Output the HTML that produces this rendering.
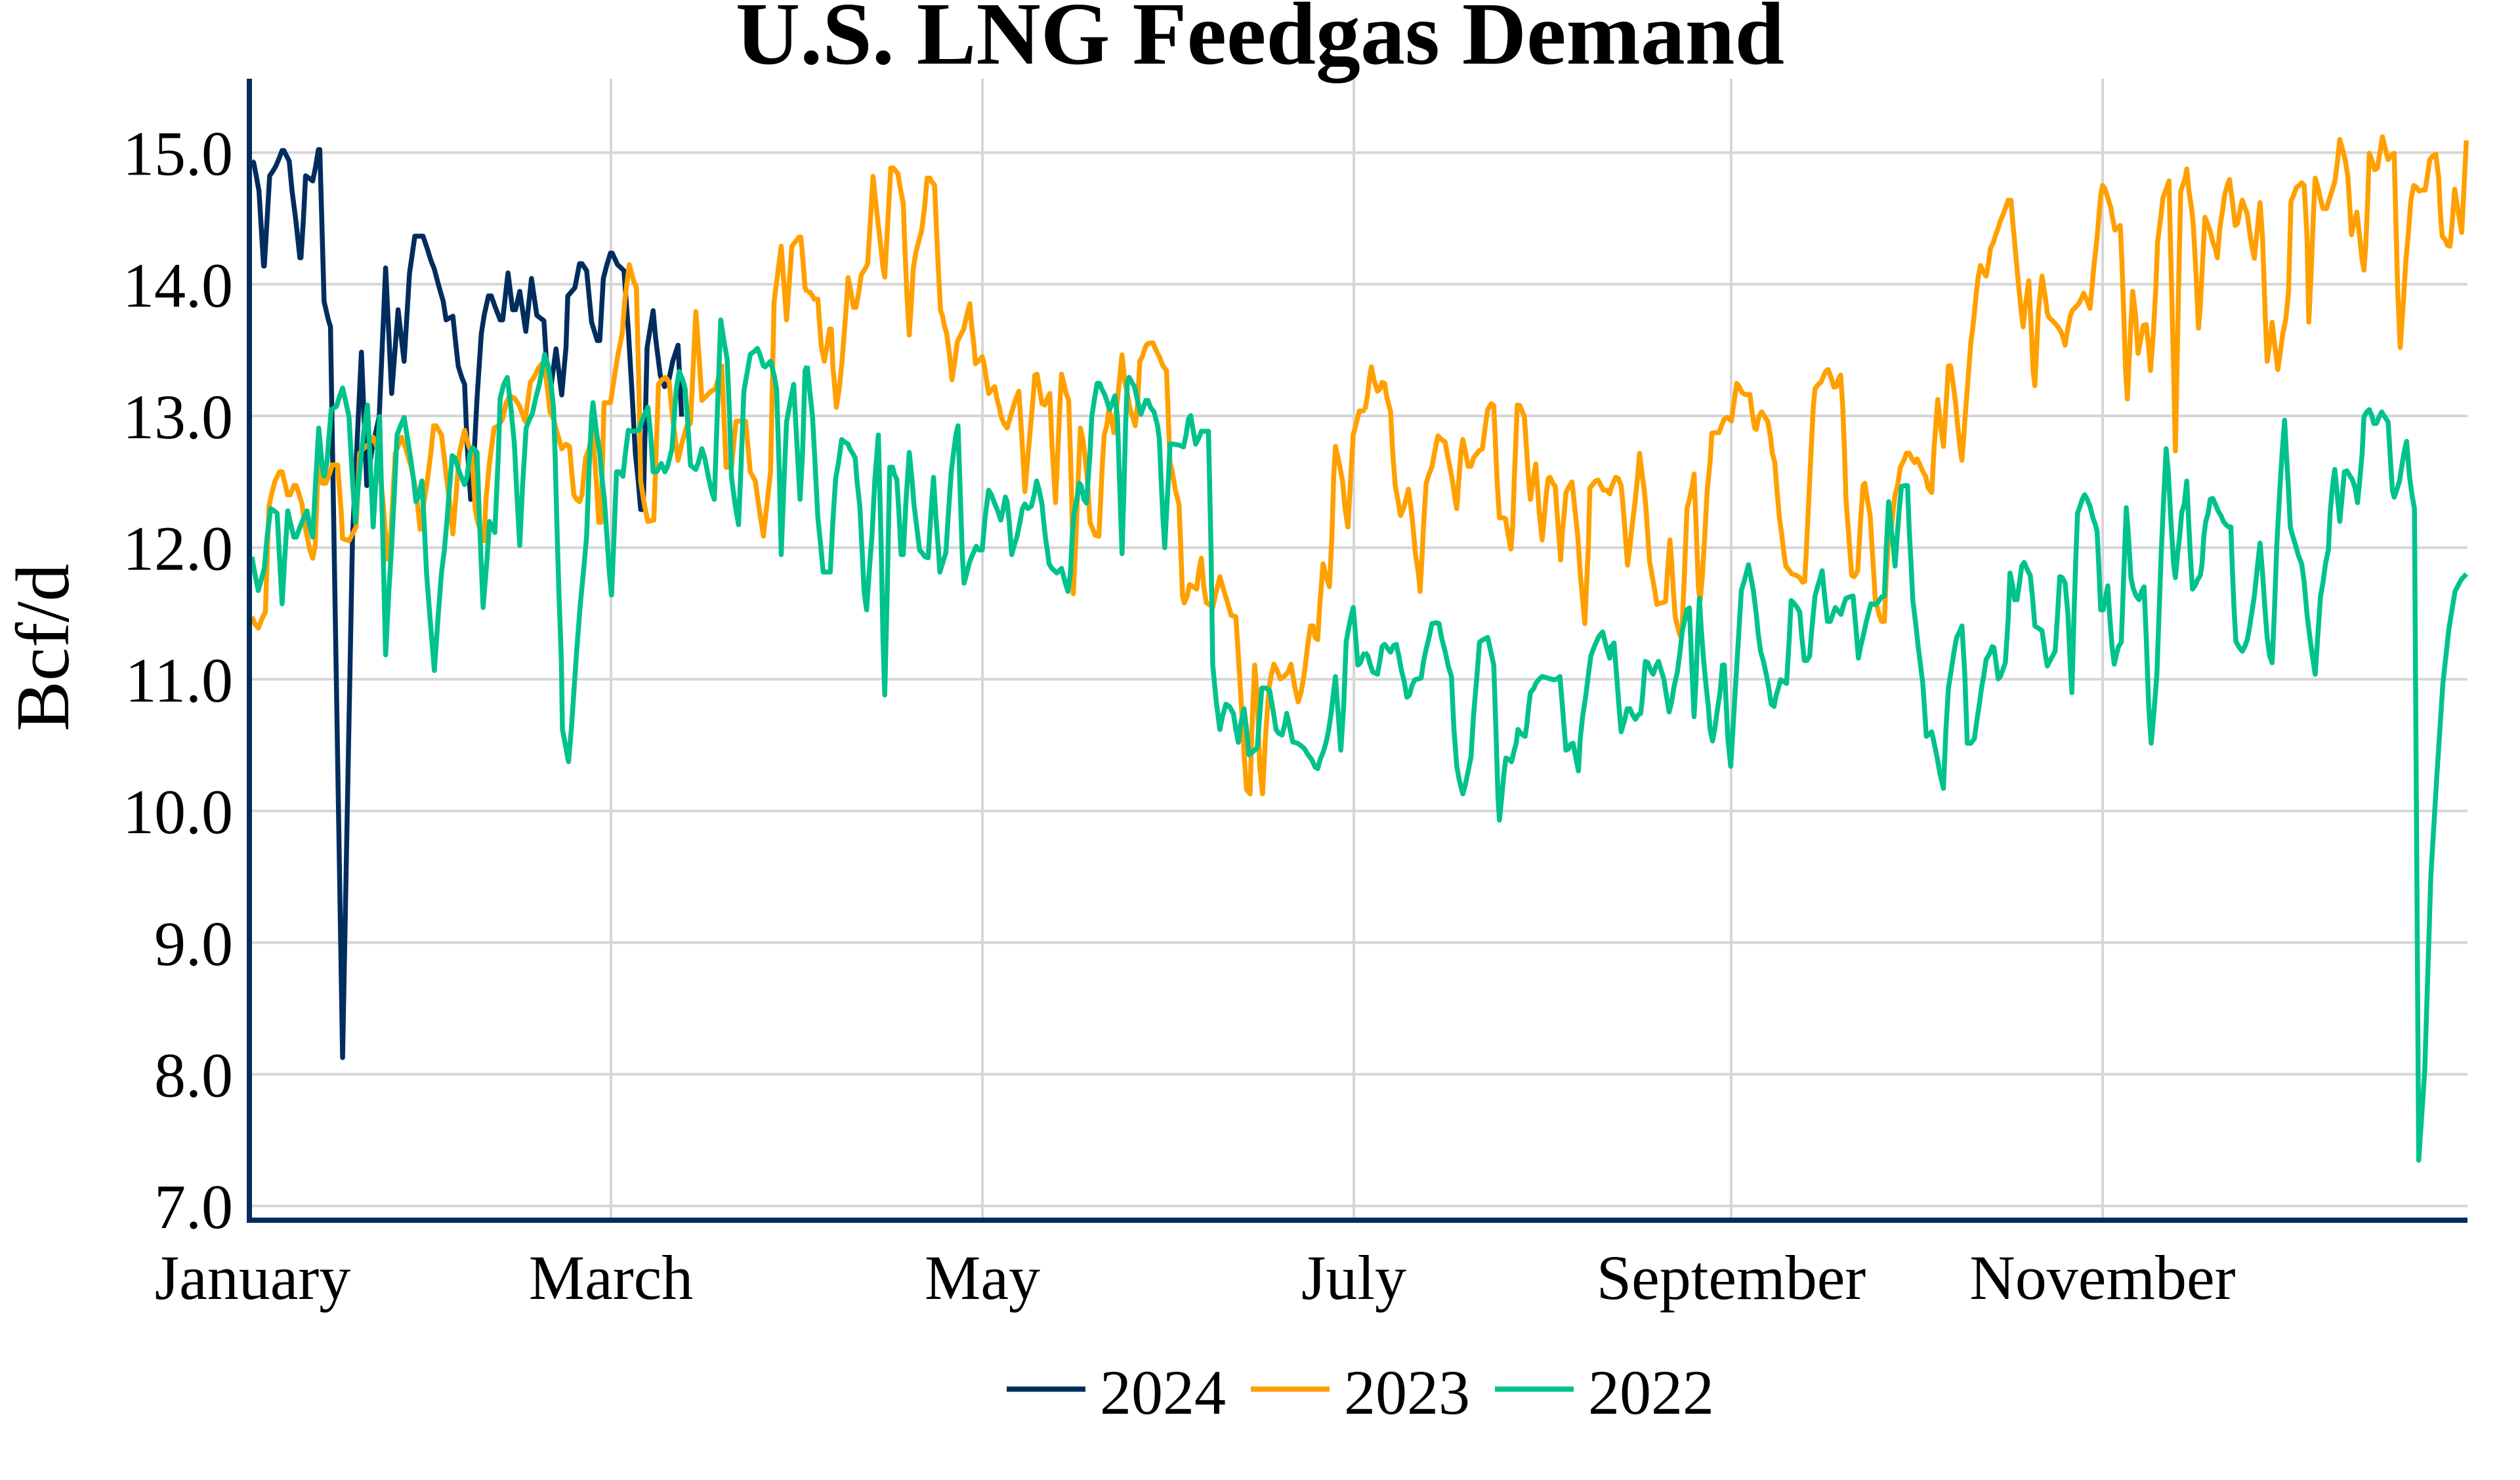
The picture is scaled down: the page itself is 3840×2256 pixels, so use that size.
<!DOCTYPE html>
<html>
<head>
<meta charset="utf-8">
<style>
html,body{margin:0;padding:0;background:#fff;}
svg{display:block;}
</style>
</head>
<body>
<svg width="3840" height="2256" viewBox="0 0 3840 2256" xmlns="http://www.w3.org/2000/svg" font-family="'Liberation Serif','Times New Roman',serif">
<rect x="0" y="0" width="3840" height="2256" fill="#ffffff"/>

<!-- horizontal gridlines -->
<g stroke="#d6d6d6" stroke-width="4">
<line x1="384" y1="232.6" x2="3760" y2="232.6"/>
<line x1="384" y1="433.3" x2="3760" y2="433.3"/>
<line x1="384" y1="634.0" x2="3760" y2="634.0"/>
<line x1="384" y1="834.7" x2="3760" y2="834.7"/>
<line x1="384" y1="1035.4" x2="3760" y2="1035.4"/>
<line x1="384" y1="1236.1" x2="3760" y2="1236.1"/>
<line x1="384" y1="1436.8" x2="3760" y2="1436.8"/>
<line x1="384" y1="1637.5" x2="3760" y2="1637.5"/>
<line x1="384" y1="1838.2" x2="3760" y2="1838.2"/>
</g>
<!-- vertical gridlines -->
<g stroke="#d6d6d6" stroke-width="4">
<line x1="931" y1="120" x2="931" y2="1856"/>
<line x1="1497" y1="120" x2="1497" y2="1856"/>
<line x1="2063" y1="120" x2="2063" y2="1856"/>
<line x1="2638" y1="120" x2="2638" y2="1856"/>
<line x1="3204" y1="120" x2="3204" y2="1856"/>
</g>

<!-- series -->
<g fill="none" stroke-linejoin="round" stroke-linecap="butt">

<!-- 2024 navy -->
<g transform="translate(380,200) scale(0.54209,0.70151)">
<polyline vector-effect="non-scaling-stroke" stroke="#002d5e" stroke-width="7.5" points="7,65 12,68 20,100 27,130 40,293 42,293 50,190 57,97 65,88 75,75 82,62 92,42 97,42 112,65 120,130 130,190 142,275 145,275 152,190 158,97 168,102 178,108 186,78 194,40 198,40 210,370 222,410 228,425 262,2013 290,880 315,480 330,770 345,690 365,620 383,297 400,570 418,388 435,500 450,310 465,228 488,228 500,255 510,280 520,300 532,335 545,370 553,410 572,402 580,460 587,510 597,535 605,550 612,680 622,800 632,700 640,580 652,440 660,400 672,358 680,358 690,380 705,410 712,410 727,308 740,388 748,388 760,348 777,435 793,320 808,400 828,412 835,500 845,570 862,473 878,573 890,470 895,358 915,340 928,288 935,288 948,303 962,415 978,455 985,455 995,320 1005,290 1015,265 1020,265 1035,290 1053,303 1065,430 1075,560 1085,700 1093,760 1100,822 1107,822 1118,470 1135,390 1142,450 1155,530 1167,555 1178,545 1190,500 1205,465 1215,620"/>
</g>

<!-- 2023 orange -->
<g transform="translate(380,200) scale(0.54209,0.70151)">
<polyline vector-effect="non-scaling-stroke" stroke="#ffa000" stroke-width="7.5" points="7,1055 15,1070 25,1080 35,1060 45,1045 55,815 62,790 72,760 85,740 92,740 100,765 107,790 115,790 125,770 132,770 140,790 148,810 155,855 162,880 170,910 178,928 185,900 195,690 205,765 215,765 225,745 233,725 248,725 258,825 262,885 280,890 290,875 300,860 310,700 320,690 335,680 348,665 360,690 375,800 388,930 398,870 410,700 428,665 440,690 455,730 470,790 480,865 490,810 500,760 510,700 518,640 525,640 540,660 548,710 555,760 562,800 572,875 580,800 590,700 605,650 615,680 625,700 635,820 642,850 660,890 665,800 675,720 688,645 700,640 712,625 722,590 732,575 745,580 758,595 775,630 790,545 800,535 812,515 828,500 838,560 845,610 855,625 865,655 878,690 890,680 900,685 905,730 912,790 920,800 928,805 935,790 945,710 955,690 965,650 975,760 982,850 988,850 997,590 1015,590 1025,540 1035,490 1048,440 1055,370 1068,290 1080,325 1088,340 1095,560 1100,760 1110,810 1120,848 1137,845 1150,550 1160,540 1170,535 1180,545 1190,625 1205,715 1215,680 1230,640 1240,635 1255,392 1265,500 1272,585 1285,575 1298,565 1310,560 1328,510 1340,730 1355,730 1368,630 1380,630 1395,630 1408,740 1422,760 1435,830 1445,880 1465,740 1475,370 1485,310 1495,250 1510,410 1525,250 1535,240 1545,230 1550,230 1555,270 1562,340 1568,350"/>
</g>
<g transform="translate(1230,200) scale(0.54209,0.70151)">
<polyline vector-effect="non-scaling-stroke" stroke="#ffa000" stroke-width="7.5" points="0,350 8,350 15,358 20,365 30,365 35,420 40,470 48,500 55,470 63,430 68,430 72,510 78,560 82,600 90,560 98,500 105,430 110,380 115,318 122,345 130,383 137,383 145,350 152,312 162,300 170,288 178,190 185,98 192,150 200,205 207,250 212,290 218,317 225,220 235,80 242,80 255,92 262,125 270,157 275,260 280,350 287,443 293,370 298,300 305,265 315,235 322,215 330,165 337,102 345,102 350,110 358,117 365,240 370,320 375,390 380,400 385,420 392,440 400,485 407,540 415,500 422,458 430,445 440,430 447,405 457,375 462,420 468,460 473,505 485,497 492,490 497,505 502,530 510,570 520,560 527,555 533,580 540,600 545,620 553,635 562,645 568,630 575,610 585,585 595,565 603,660 612,783 620,710 627,650 635,580 640,530 646,528 652,555 660,592 668,595 675,580 682,570 688,680 692,730 698,807 705,690 710,600 715,528 722,550 728,570 735,585 740,700 745,850 748,1005 755,890 762,750 768,645 775,670 780,700 788,760 795,850 803,865 810,878 820,880 825,800 830,720 835,660 842,640 848,605 855,625 862,655 870,600 878,540 885,486 893,545 900,570 908,605 915,620 922,640 928,600 935,500 942,490 950,470 955,463 965,460 972,460 980,475 990,490 1000,510 1010,520 1015,620 1020,720 1025,735 1035,780 1045,810 1050,900 1055,1010 1060,1025 1068,1010 1075,985 1085,990 1095,995 1100,960 1108,928 1115,990 1122,1025 1130,1028 1140,1035 1150,1000 1160,968 1170,995 1180,1020 1192,1052 1205,1055 1212,1140 1220,1240 1228,1350 1235,1430 1245,1440 1250,1300 1258,1160 1265,1230 1272,1380 1280,1440 1288,1320 1298,1210 1305,1180 1312,1158 1320,1170 1330,1190 1340,1185 1352,1175 1360,1158 1370,1205 1380,1240 1388,1220 1395,1190 1402,1150 1408,1110 1415,1075 1422,1075 1428,1100 1435,1105 1440,1040 1450,940 1458,965 1468,990 1475,880 1480,750 1485,685 1495,720 1505,760 1512,820 1520,860 1528,750 1535,660 1545,630 1552,608 1562,608 1568,605"/>
</g>
<g transform="translate(2080,200) scale(0.54209,0.70151)">
<polyline vector-effect="non-scaling-stroke" stroke="#ffa000" stroke-width="7.5" points="0,605 8,570 12,540 18,512 25,540 35,565 42,560 48,546 55,548 62,580 72,610 78,700 85,770 92,800 100,835 108,820 115,800 122,778 128,810 135,860 142,920 150,960 155,1000 160,930 165,850 172,765 180,745 188,730 195,700 205,662 212,668 225,675 232,705 240,735 248,770 252,795 258,820 265,745 270,695 275,670 282,695 290,728 298,728 305,710 312,703 320,695 330,690 335,660 340,630 345,605 355,592 362,596 368,700 372,770 378,840 388,840 395,842 402,875 410,908 415,860 420,750 428,595 435,596 448,620 455,700 460,760 465,800 472,760 480,723 485,775 490,830 498,888 505,830 510,785 515,755 520,752 528,765 535,772 540,830 545,880 550,932 555,870 560,830 565,785 575,770 582,762 590,820 598,880 605,960 612,1020 618,1070 622,1000 628,900 632,775 640,768 648,760 655,758 662,768 670,780 680,780 688,788 692,775 700,760 705,752 712,755 720,770 725,810 732,880 738,943 745,900 752,850 760,800 765,760 772,700 778,740 785,780 790,820 795,880 800,935 808,970 815,1000 820,1028 828,1026 838,1024 845,1022 850,960 857,888 862,935 866,990 872,1055 878,1075 885,1095 890,1100 897,980 905,820 912,800 920,770 925,745 932,880 937,990 942,1020 948,970 955,880 962,780 970,720 975,656 985,655 995,655 1002,640 1010,625 1018,622 1025,626 1030,630 1035,600 1040,575 1045,548 1052,555 1060,568 1068,572 1082,572 1088,610 1095,645 1100,648 1107,620 1115,610 1125,622 1132,630 1140,665 1145,700 1152,720 1158,780 1165,840 1172,880 1178,920 1183,945 1190,952 1200,962 1212,965 1222,970 1230,980 1236,978 1240,920 1245,840 1250,760 1255,680 1260,600 1265,560 1272,552 1282,545 1290,530 1295,522 1302,518 1310,535 1318,556 1325,555 1330,540 1337,530 1343,600 1348,700 1352,800 1358,860 1362,900 1368,965 1375,968 1385,955 1392,860 1400,770 1405,765 1412,800 1420,835 1425,900 1430,960 1435,1025 1440,1035 1445,1050 1452,1065 1460,1065 1465,970 1472,880 1480,860 1485,820 1490,790 1497,770 1505,730 1515,715 1522,700 1530,700 1538,712 1545,720 1552,712 1560,725 1568,740"/>
</g>
<g transform="translate(2930,200) scale(0.54209,0.70151)">
<polyline vector-effect="non-scaling-stroke" stroke="#ffa000" stroke-width="7.5" points="0,740 8,750 15,775 25,785 32,685 42,583 50,640 58,685 65,600 72,510 78,510 85,548 92,590 98,640 105,690 110,715 115,665 120,610 125,560 130,510 135,460 140,430 145,395 150,355 155,320 162,292 170,305 178,315 185,285 190,255 198,242 205,225 212,210 218,195 225,182 232,168 240,150 248,150 252,190 258,240 265,300 270,340 275,380 282,425 288,380 298,325 305,430 310,520 315,553 320,470 325,390 335,315 340,340 345,365 350,395 355,405 362,410 372,418 380,425 388,435 395,450 400,465 405,440 410,420 415,400 420,390 430,382 438,375 445,365 452,352 460,365 470,385 475,345 480,300 485,265 490,230 495,185 500,140 505,118 512,125 520,145 528,165 535,195 540,215 548,210 555,205 560,290 565,400 570,520 575,582 580,500 585,420 590,348 598,400 605,483 612,455 620,422 628,420 635,470 640,520 648,440 655,340 660,240 665,210 670,180 675,145 682,130 688,118 692,108 698,300 705,520 710,695 715,500 720,300 725,130 732,115 738,100 742,82 748,130 755,165 760,200 768,310 775,428 780,380 786,290 793,187 800,200 808,218 815,240 822,255 828,275 835,210 842,175 848,140 855,120 862,105 870,150 878,205 885,200 892,170 898,150 905,165 912,180 918,215 925,250 932,276 940,215 948,155 955,230 962,390 968,500 975,460 982,415 990,470 998,518 1005,480 1012,440 1020,410 1028,350 1035,152 1042,140 1050,122 1058,118 1065,112 1072,118 1080,230 1085,415 1092,300 1098,180 1103,102 1110,120 1118,148 1125,168 1135,168 1142,150 1150,130 1158,110 1165,70 1172,18 1180,40 1188,65 1195,100 1205,225 1212,200 1220,176 1228,230 1235,280 1240,302 1245,250 1250,160 1255,48 1262,62 1270,84 1278,80 1285,45 1292,12 1300,38 1308,62 1318,52 1325,48 1330,200 1335,350 1342,470 1350,380 1358,280 1365,220 1372,150 1380,118 1388,122 1395,130 1405,128 1412,128 1418,100 1425,62 1432,55 1442,50 1450,100 1455,180 1460,228 1468,235 1475,248 1482,250 1488,200 1495,126 1505,175 1515,220 1522,110 1528,20"/>
</g>

<!-- 2022 green -->
<g transform="translate(380,200) scale(0.54209,0.70151)">
<polyline vector-effect="non-scaling-stroke" stroke="#00c28c" stroke-width="7.5" points="7,925 15,960 25,998 35,970 42,950 50,880 60,820 70,825 78,830 85,930 92,1027 100,920 108,825 115,850 125,882 132,882 140,865 150,845 162,825 170,860 178,882 185,780 195,645 205,730 210,750 218,720 230,605 245,598 252,580 262,558 270,585 280,620 290,760 298,850 305,780 315,700 322,650 332,595 340,720 348,860 357,740 366,620 375,880 383,1138 392,1000 400,900 408,780 415,660 425,640 435,622 445,670 455,720 462,760 468,805 475,795 485,760 490,830 498,960 508,1060 520,1172 530,1060 540,960 548,910 555,850 562,780 570,705 578,710 590,740 605,768 612,750 620,700 628,688 640,698 648,870 657,1035 668,930 675,848 690,872 700,700 705,580 715,550 725,535 735,600 745,680 752,790 760,900 768,770 778,645 788,625 795,615 805,580 815,550 825,510 830,485 840,510 848,550 855,600 860,720 865,870 870,1000 877,1150 880,1300 890,1340 897,1370 905,1300 912,1220 920,1130 930,1030 940,950 948,880 955,730 962,620 966,590 975,650 985,700 990,745 998,800 1005,880 1012,960 1018,1008 1025,880 1032,740 1040,740 1050,750 1057,700 1065,650 1080,652 1095,650 1108,620 1120,600 1128,660 1135,740 1145,740 1158,722 1168,740 1175,730 1188,690 1200,560 1208,522 1218,540 1225,560 1232,630 1240,726 1255,735 1262,720 1272,690 1280,710 1290,750 1300,785 1307,800 1315,620 1325,410 1335,460 1343,495 1350,620 1355,750 1365,810 1375,855 1382,730 1390,565 1398,530 1408,485 1420,478 1428,472 1435,485 1445,510 1450,512 1465,500 1475,530 1482,560 1490,750 1495,920 1503,760 1510,632 1520,590 1530,550 1537,650 1548,800 1555,700 1562,520 1568,510"/>
</g>
<g transform="translate(1230,200) scale(0.54209,0.70151)">
<polyline vector-effect="non-scaling-stroke" stroke="#00c28c" stroke-width="7.5" points="0,510 8,570 15,620 22,720 30,840 38,900 45,958 55,958 65,958 72,850 80,755 88,720 97,670 105,675 115,680 120,690 128,700 135,710 140,760 148,815 155,920 160,1000 167,1040 175,950 182,880 190,760 200,660 208,900 213,1100 218,1225 225,1000 232,730 240,730 245,745 252,757 258,830 264,920 270,920 278,800 287,698 295,760 300,810 308,860 316,910 325,918 330,924 340,927 347,840 355,752 362,840 368,900 373,958 380,940 390,915 397,830 405,740 412,695 418,660 424,640 430,780 436,920 441,982 448,962 455,940 462,925 468,915 475,902 483,910 492,910 500,840 510,780 518,790 525,805 532,818 538,830 544,845 550,825 557,795 562,805 568,850 575,920 580,905 590,880 598,850 605,820 612,810 620,820 630,815 638,790 645,760 652,780 660,810 665,850 670,885 675,910 680,940 688,950 695,955 702,960 715,950 725,980 733,1000 740,960 745,880 750,830 758,800 765,765 770,770 778,800 785,808 795,700 800,620 808,580 815,548 822,548 828,560 835,570 842,585 850,605 858,590 865,575 872,620 878,760 885,918 890,790 895,640 900,545 905,535 912,545 920,555 930,590 938,615 945,600 952,585 958,585 965,600 975,610 985,640 990,670 995,760 1000,840 1005,905 1010,830 1015,760 1020,680 1030,680 1045,682 1058,686 1065,660 1072,625 1078,618 1085,650 1092,680 1100,668 1108,652 1118,652 1128,652 1135,900 1140,1160 1150,1240 1160,1300 1168,1270 1177,1245 1187,1250 1198,1265 1205,1300 1212,1328 1218,1290 1228,1255 1235,1300 1242,1355 1250,1350 1265,1340 1272,1270 1278,1210 1290,1210 1300,1215 1310,1260 1318,1300 1325,1308 1335,1312 1342,1290 1348,1265 1355,1290 1365,1327 1378,1330 1388,1335 1398,1342 1408,1355 1418,1365 1428,1382 1435,1385 1442,1365 1450,1350 1458,1330 1465,1305 1472,1270 1478,1230 1485,1185 1492,1260 1500,1345 1508,1250 1515,1110 1522,1080 1530,1050 1535,1035 1542,1100 1548,1160 1555,1155 1562,1140 1568,1132"/>
</g>
<g transform="translate(2080,200) scale(0.54209,0.70151)">
<polyline vector-effect="non-scaling-stroke" stroke="#00c28c" stroke-width="7.5" points="0,1132 8,1140 15,1160 22,1175 35,1180 42,1150 48,1120 55,1115 65,1125 72,1132 80,1118 88,1115 95,1140 102,1170 110,1195 118,1230 125,1225 132,1205 140,1192 150,1190 158,1188 165,1150 172,1125 180,1100 188,1070 200,1068 208,1070 215,1100 225,1130 235,1165 243,1185 250,1300 258,1380 265,1410 275,1440 282,1420 290,1390 298,1360 305,1270 315,1180 322,1110 332,1105 345,1100 352,1125 362,1160 368,1300 374,1450 378,1497 384,1450 390,1400 396,1362 405,1365 412,1370 418,1350 425,1330 430,1300 440,1310 450,1315 455,1290 460,1250 465,1220 475,1210 480,1200 488,1192 498,1185 508,1187 520,1190 532,1192 540,1190 548,1185 555,1250 560,1300 565,1345 572,1342 578,1332 585,1330 592,1358 600,1390 605,1320 612,1270 620,1230 628,1180 635,1140 642,1125 650,1110 658,1097 668,1088 675,1110 682,1130 688,1145 692,1120 700,1112 708,1190 715,1260 720,1305 728,1285 737,1255 745,1255 752,1268 760,1278 768,1268 775,1265 780,1230 788,1152 795,1155 802,1170 810,1180 818,1162 825,1152 832,1170 840,1190 848,1230 855,1262 862,1240 868,1210 878,1175 885,1135 892,1085 898,1065 905,1040 912,1036 918,1150 925,1272 930,1200 935,1100 940,1015 945,1080 952,1150 958,1200 965,1250 970,1300 977,1325 983,1300 990,1260 998,1220 1005,1160 1010,1160 1015,1240 1020,1320 1028,1380 1035,1290 1042,1200 1050,1100 1058,998 1065,980 1072,960 1078,942 1085,970 1092,1000 1100,1050 1105,1090 1112,1130 1120,1152 1128,1180 1135,1210 1142,1245 1150,1250 1155,1228 1162,1210 1168,1192 1175,1195 1185,1200 1192,1110 1198,1020 1205,1025 1215,1035 1222,1045 1228,1100 1235,1150 1242,1150 1250,1140 1255,1090 1260,1050 1265,1010 1272,990 1278,975 1285,955 1292,1010 1300,1065 1308,1065 1315,1050 1322,1035 1330,1042 1338,1050 1345,1030 1352,1015 1362,1012 1372,1010 1380,1080 1387,1145 1393,1120 1400,1098 1408,1070 1415,1048 1422,1027 1430,1028 1438,1028 1445,1020 1452,1012 1460,1010 1465,910 1472,805 1480,870 1485,900 1490,945 1495,890 1502,820 1508,772 1518,770 1525,770 1530,870 1535,940 1540,1020 1548,1070 1555,1120 1568,1200"/>
</g>
<g transform="translate(2930,200) scale(0.54209,0.70151)">
<polyline vector-effect="non-scaling-stroke" stroke="#00c28c" stroke-width="7.5" points="0,1200 10,1315 18,1310 25,1305 32,1330 40,1360 48,1395 58,1428 65,1300 72,1210 80,1170 88,1130 95,1100 102,1090 110,1075 118,1180 125,1330 135,1330 145,1320 152,1280 158,1250 165,1210 172,1180 178,1148 188,1135 195,1120 200,1122 205,1150 212,1190 218,1185 225,1170 232,1155 240,1060 245,960 252,985 258,1018 265,1018 272,980 278,945 285,937 295,955 302,965 308,1010 315,1075 325,1080 335,1085 340,1112 345,1140 350,1162 358,1150 365,1140 372,1130 378,1060 385,968 392,970 400,982 408,1050 414,1150 419,1220 425,1050 430,930 435,830 442,815 448,800 455,790 462,800 470,815 478,840 485,855 490,870 495,950 500,1040 507,1040 513,1015 520,988 525,1050 532,1120 538,1158 545,1135 550,1120 558,1110 565,960 572,818 578,880 585,970 592,995 600,1010 608,1018 615,1000 622,990 628,1100 635,1250 642,1330 650,1260 658,1180 664,1050 670,920 677,800 684,690 690,740 697,840 705,940 710,970 716,920 722,880 728,828 735,810 742,760 748,860 752,920 758,995 765,988 772,975 780,965 785,940 790,880 795,850 802,830 808,800 815,798 822,810 830,825 838,835 845,848 852,855 860,860 866,860 870,950 875,1040 880,1108 888,1120 898,1130 905,1120 912,1105 918,1080 925,1045 932,1010 940,950 948,895 955,960 962,1040 968,1100 975,1140 982,1155 988,1050 995,900 1000,830 1005,760 1010,700 1017,628 1022,700 1028,780 1033,860 1040,880 1048,900 1055,920 1065,940 1072,980 1080,1050 1088,1100 1095,1140 1103,1180 1110,1100 1118,1010 1125,980 1132,940 1140,910 1145,830 1152,770 1158,735 1165,790 1172,848 1178,800 1185,740 1192,738 1200,748 1208,758 1215,775 1222,807 1228,760 1235,700 1240,620 1248,610 1255,605 1262,618 1268,635 1275,635 1282,622 1290,610 1298,620 1308,632 1315,720 1320,780 1325,795 1332,780 1340,760 1348,720 1355,690 1360,674 1368,750 1375,790 1382,820 1394,2236 1411,2040 1428,1620 1445,1400 1462,1200 1479,1080 1496,1000 1513,975 1528,962"/>
</g>
</g>

<!-- axes -->
<line x1="380" y1="120" x2="380" y2="1864" stroke="#002d5e" stroke-width="8"/>
<line x1="376" y1="1860" x2="3760" y2="1860" stroke="#002d5e" stroke-width="8"/>

<!-- title -->
<text x="1920" y="97" font-size="136" font-weight="bold" text-anchor="middle" fill="#000">U.S. LNG Feedgas Demand</text>

<!-- y axis title -->
<text x="0" y="0" font-size="115" text-anchor="middle" fill="#000" transform="translate(104,987) rotate(-90)">Bcf/d</text>

<!-- y tick labels -->
<g font-size="96" text-anchor="end" fill="#000">
<text x="355" y="266.6">15.0</text>
<text x="355" y="467.3">14.0</text>
<text x="355" y="668.0">13.0</text>
<text x="355" y="868.7">12.0</text>
<text x="355" y="1069.4">11.0</text>
<text x="355" y="1270.1">10.0</text>
<text x="355" y="1470.8">9.0</text>
<text x="355" y="1671.5">8.0</text>
<text x="355" y="1872.2">7.0</text>
</g>

<!-- x tick labels -->
<g font-size="96" text-anchor="middle" fill="#000">
<text x="385" y="1980">January</text>
<text x="931" y="1980">March</text>
<text x="1497" y="1980">May</text>
<text x="2063" y="1980">July</text>
<text x="2638" y="1980">September</text>
<text x="3204" y="1980">November</text>
</g>

<!-- legend -->
<g stroke-width="8">
<line x1="1534" y1="2117.5" x2="1654" y2="2117.5" stroke="#002d5e"/>
<line x1="1906" y1="2117.5" x2="2026" y2="2117.5" stroke="#ffa000"/>
<line x1="2278" y1="2117.5" x2="2398" y2="2117.5" stroke="#00c28c"/>
</g>
<g font-size="96" fill="#000">
<text x="1676" y="2155">2024</text>
<text x="2048" y="2155">2023</text>
<text x="2420" y="2155">2022</text>
</g>
</svg>
</body>
</html>
